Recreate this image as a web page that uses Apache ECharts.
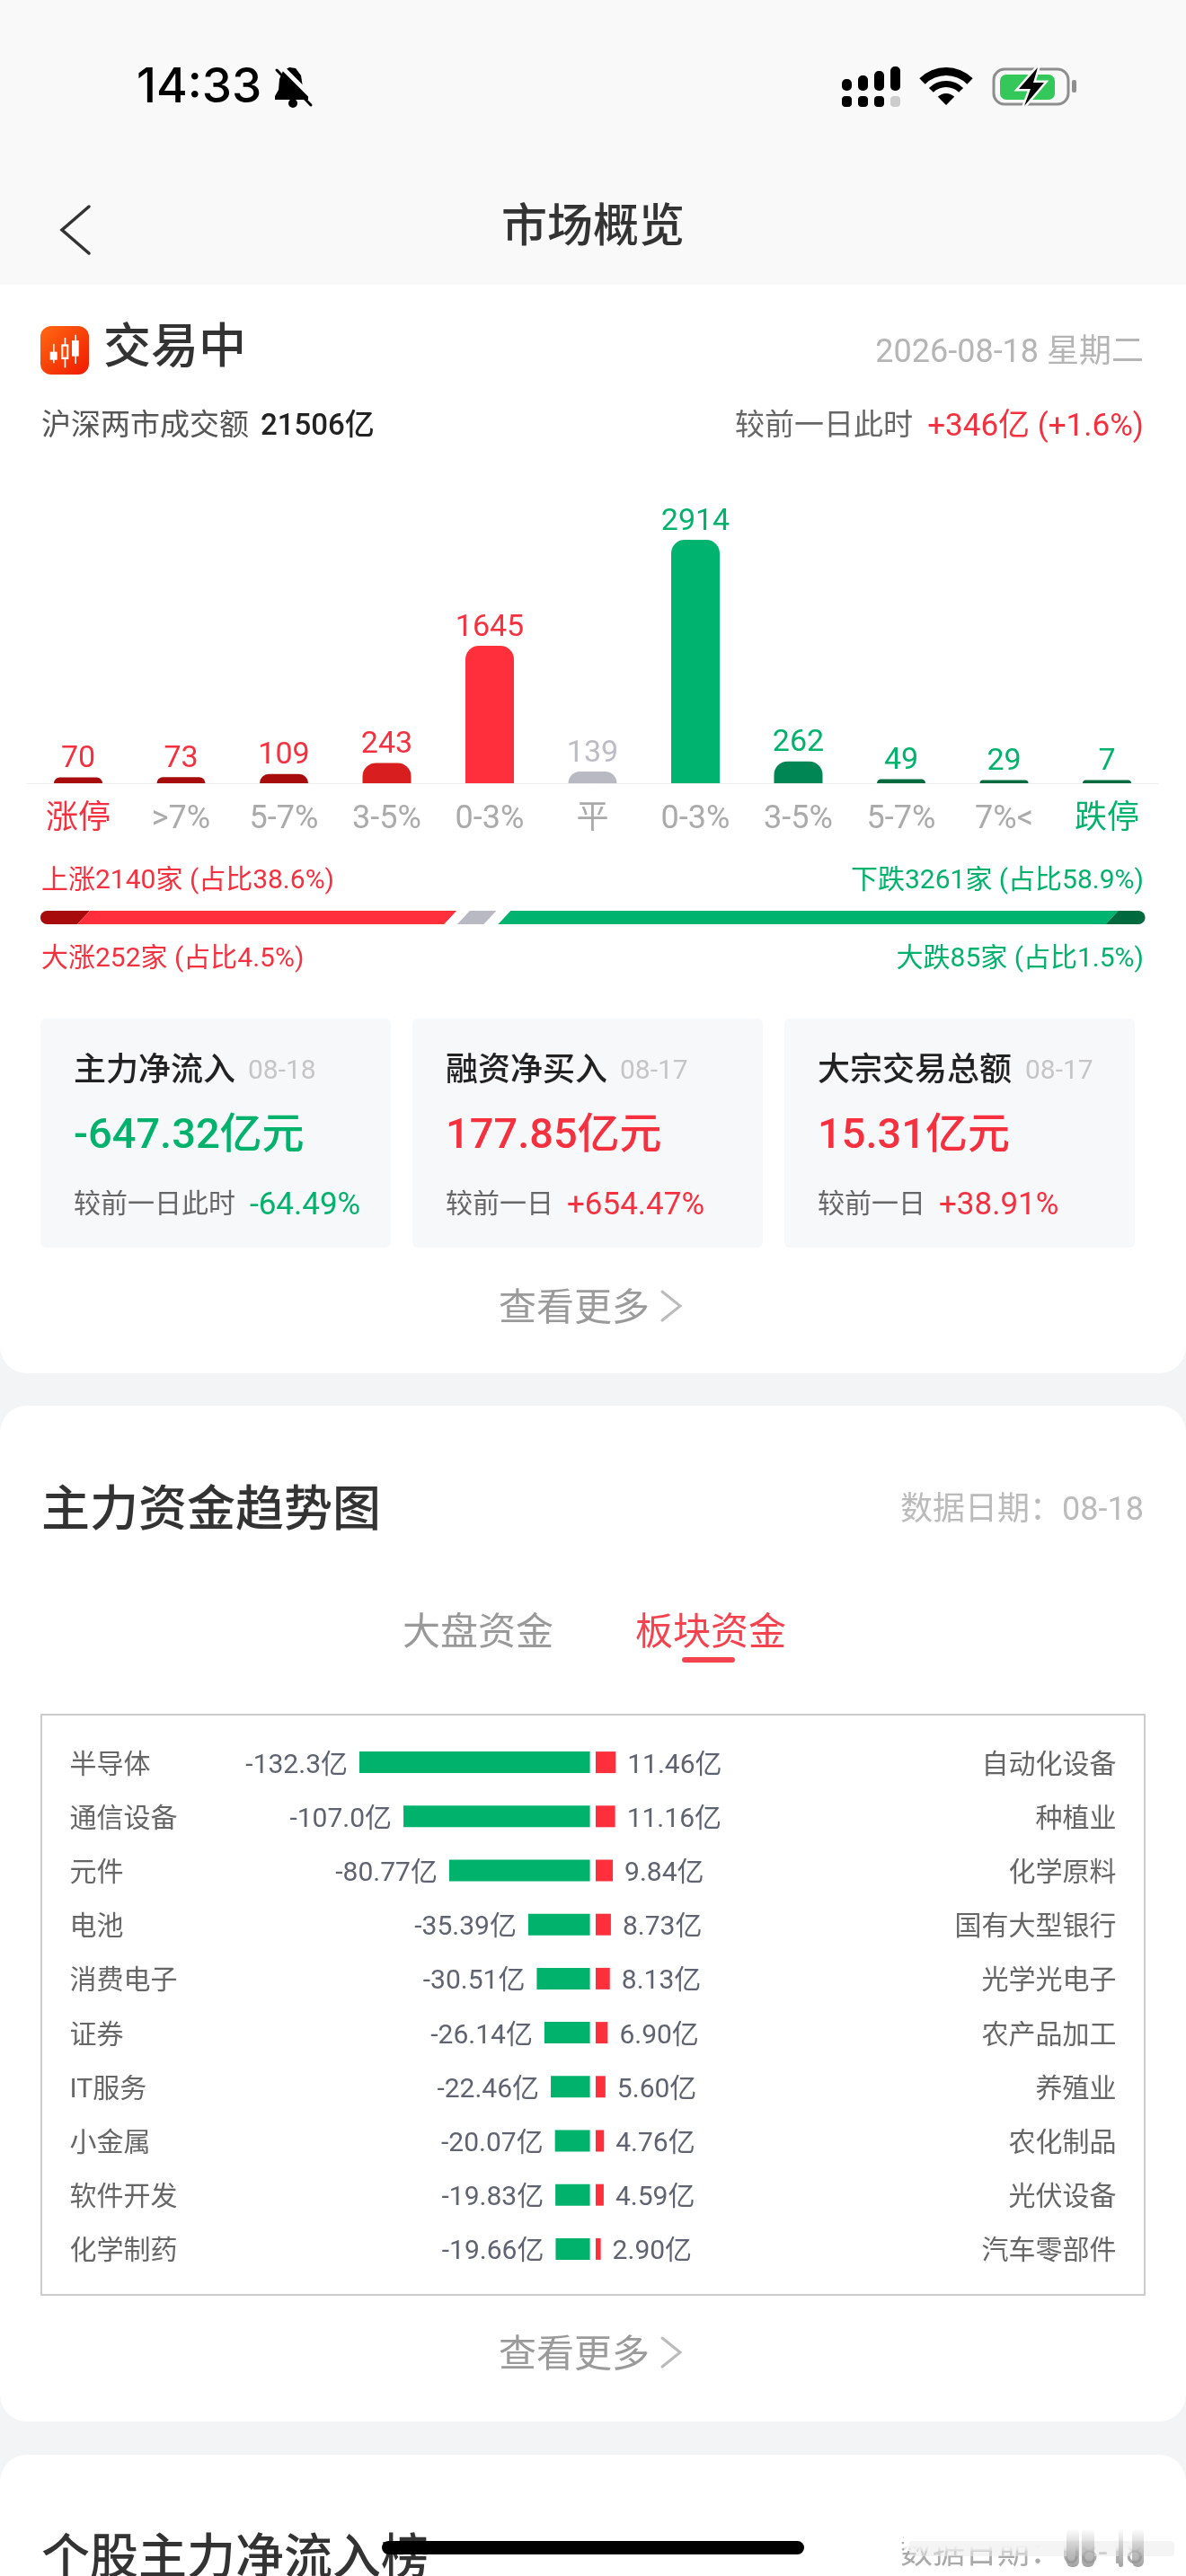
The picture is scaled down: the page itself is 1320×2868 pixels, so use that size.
<!DOCTYPE html>
<html lang="zh">
<head>
<meta charset="utf-8">
<title>市场概览</title>
<style>
  html, body { margin: 0; padding: 0; background: #f3f4f6; }
  #page { width: 1320px; height: 2868px; }
</style>
</head>
<body>
<div id="page"></div>
<script src="https://cdn.jsdelivr.net/npm/echarts@6/dist/echarts.min.js"></script>
<script>
// 涨跌分布
const rangeLabels = ['涨停', '>7%', '5-7%', '3-5%', '0-3%', '平', '0-3%', '3-5%', '5-7%', '7%<', '跌停'];
const rangeCounts = [70, 73, 109, 243, 1645, 139, 2914, 262, 49, 29, 7];

// 涨跌比例条（按图上读到的占条长百分比）
const ratioStart = [0, 3.9, 38.3, 42.0, 97.0];
const ratioEnd = [3.9, 37.1, 40.7, 97.0, 100];

// 板块资金
const outNames = ['半导体', '通信设备', '元件', '电池', '消费电子', '证券', 'IT服务', '小金属', '软件开发', '化学制药'];
const outValues = [-132.3, -107.0, -80.77, -35.39, -30.51, -26.14, -22.46, -20.07, -19.83, -19.66];
const inNames = ['自动化设备', '种植业', '化学原料', '国有大型银行', '光学光电子', '农产品加工', '养殖业', '农化制品', '光伏设备', '汽车零部件'];
const inValues = [11.46, 11.16, 9.84, 8.73, 8.13, 6.90, 5.60, 4.76, 4.59, 2.90];

const RED = '#f5303f', GREEN = '#00b26c', GRAY = '#aaaaaa';
const FONT = 'Roboto, "Noto Sans CJK SC", sans-serif';
const rangeBarColors = ['#a80b0b', '#a80b0b', '#a80b0b', '#d81e1e', '#ff303c', '#b9b9c4', '#00b36e', '#008555', '#006a3f', '#006a3f', '#006a3f'];
const rangeValueColors = [RED, RED, RED, RED, RED, '#bcbcc6', GREEN, GREEN, GREEN, GREEN, GREEN];
const rangeLabelColors = [RED, GRAY, GRAY, GRAY, GRAY, GRAY, GRAY, GRAY, GRAY, GRAY, GREEN];
const ratioColors = ['#a80b0b', '#ff303c', '#b9b9c4', '#00b36e', '#006a3f'];

const chart = echarts.init(document.getElementById('page'));

// 文字（中文字体的 middle 偏上，按字号往下补一点）
function txt(x, y, text, size, color, align, weight, family) {
  return {
    type: 'text', x, y: y + size * 0.12, z: 3,
    style: {
      text, fill: color, fontSize: size, fontFamily: family || FONT,
      fontWeight: weight || 400, align: align || 'left', verticalAlign: 'middle'
    }
  };
}
function box(x, y, w, h, color, r, z) {
  return { type: 'rect', z: z === undefined ? 1 : z, shape: { x, y, width: w, height: h, r: r || 0 }, style: { fill: color } };
}
function line(points, color, width) {
  return { type: 'polyline', z: 3, shape: { points }, style: { stroke: color, lineWidth: width, fill: null, lineCap: 'round' } };
}

// 顶部状态栏图标
function statusIcons() {
  const items = [];
  // 静音铃铛
  items.push({ type: 'polygon', z: 3, shape: { points: [[322, 75], [329, 76], [335, 84], [337, 97], [343, 105], [343, 111], [306, 111], [306, 107], [310, 100], [311, 88], [315, 79]] }, style: { fill: '#000' } });
  items.push({ type: 'circle', z: 3, shape: { cx: 326, cy: 115, r: 5 }, style: { fill: '#000' } });
  items.push(line([[311, 72], [350, 111]], '#f9f9f9', 5));
  items.push(line([[308, 78], [346, 117]], '#000', 3));
  // 信号
  const colX = [937, 955, 973, 991];
  const colTop = [88, 84, 79, 74];
  colX.forEach((x, i) => {
    items.push(box(x, colTop[i], 11, 101 - colTop[i], '#000', 5, 3));
    items.push(box(x, 107, 11, 12, i === 3 ? '#cccccc' : '#000', 4, 3));
  });
  // wifi
  [[0, 13], [20, 27], [33, 42]].forEach(r => {
    items.push({ type: 'sector', z: 3, shape: { cx: 1053, cy: 117, r0: r[0], r: r[1], startAngle: -Math.PI * 0.75, endAngle: -Math.PI * 0.25 }, style: { fill: '#000' } });
  });
  // 电池
  items.push({ type: 'rect', z: 3, shape: { x: 1106, y: 77, width: 83, height: 39, r: 12 }, style: { fill: null, stroke: '#8e8e8e', lineWidth: 3 } });
  items.push(box(1113, 83, 61, 28, '#34c759', 7, 3));
  items.push(box(1193, 89, 5, 14, '#8e8e8e', 2, 3));
  const bolt = [[1155, 75], [1134, 99], [1147, 99], [1140, 118], [1162, 92], [1150, 92]];
  items.push({ type: 'polygon', z: 3, shape: { points: bolt }, style: { fill: '#000', stroke: '#f9f9f9', lineWidth: 5 } });
  items.push({ type: 'polygon', z: 3, shape: { points: bolt }, style: { fill: '#000' } });
  return items;
}

// 交易中 蜡烛图标
function candleIcon() {
  const fill = { type: 'linear', x: 0, y: 0, x2: 1, y2: 1, colorStops: [{ offset: 0, color: '#ff6a12' }, { offset: 1, color: '#f01a00' }] };
  const ox = 35, oy = 350;
  const p = v => v / 3;
  const items = [{ type: 'rect', z: 3, shape: { x: 45, y: 363, width: 54, height: 54, r: 12 }, style: { fill } }];
  const wick = [[72, 98, 163], [110, 78, 178], [145, 68, 165]];
  const body = [[62, 125, 24, 27], [100, 100, 24, 50], [135, 87, 23, 53]];
  wick.forEach(w => items.push(box(ox + p(w[0]), oy + p(w[1]), 1.6, p(w[2] - w[1]), '#fff', 0, 3)));
  body.forEach(b => items.push(box(ox + p(b[0]), oy + p(b[1]), p(b[2]), p(b[3]), '#fff', 0, 3)));
  items.push(box(ox + p(106), oy + p(107), p(12), p(36), '#ff4a08', 0, 3));
  return items;
}

function moreLink(y) {
  return [
    txt(555, y, '查看更多', 42, '#9a9a9a'),
    line([[737, y - 16], [757, y], [737, y + 16]], '#bbbbbb', 3)
  ];
}

// 三张小卡片
const statX = [45, 459, 873];
const statTitles = ['主力净流入', '融资净买入', '大宗交易总额'];
const statDates = ['08-18', '08-17', '08-17'];
const statDateX = [276, 690, 1141];
const statValues = ['-647.32亿元', '177.85亿元', '15.31亿元'];
const statColors = [GREEN, RED, RED];
const statNotes = ['较前一日此时', '较前一日', '较前一日'];
const statDiffs = ['-64.49%', '+654.47%', '+38.91%'];
const statDiffX = [278, 631, 1045];

function statCards() {
  const items = [];
  statX.forEach((x, i) => {
    items.push(box(x, 1134, 390, 255, '#f7f8fa', 6));
    items.push(txt(x + 37, 1190, statTitles[i], 36, '#222222', 'left', 500));
    items.push(txt(statDateX[i], 1190, statDates[i], 30, '#c5c5c5'));
    items.push(txt(x + 37, 1261, statValues[i], 47, statColors[i], 'left', 500));
    items.push(txt(x + 37, 1339, statNotes[i], 30, '#666666'));
    items.push(txt(statDiffX[i], 1339, statDiffs[i], 35, statColors[i]));
  });
  return items;
}

// 底部 home 条和模糊
function bottomOverlay() {
  const smear = [[1187, 14], [1204, 14], [1245, 5], [1260, 13]];
  const items = [
    { type: 'rect', z: 5, shape: { x: 1006, y: 2800, width: 314, height: 40 }, style: { fill: { type: 'linear', x: 0, y: 0, x2: 0, y2: 1, colorStops: [{ offset: 0, color: '#ffffff' }, { offset: 0.85, color: '#ffffff' }, { offset: 1, color: 'rgba(255,255,255,0.4)' }] } } },
    { type: 'rect', z: 6, shape: { x: 1012, y: 2829, width: 295, height: 17, r: 4 }, style: { fill: 'rgba(235,235,235,0.55)' } }
  ];
  smear.forEach(s => {
    items.push({ type: 'rect', z: 6, shape: { x: s[0], y: 2815, width: s[1], height: 43, r: 6 }, style: { fill: { type: 'linear', x: 0, y: 0, x2: 0, y2: 1, colorStops: [{ offset: 0, color: 'rgba(150,150,150,0)' }, { offset: 1, color: 'rgba(150,150,150,0.9)' }] } } });
  });
  items.push(box(425, 2829, 470, 15, '#000', 7.5, 7));
  return items;
}

const graphics = [
  // 底色和卡片
  box(0, 0, 1320, 317, '#f9f9f9', 0, 0),
  box(0, 317, 1320, 1212, '#ffffff', [0, 0, 30, 30], 0),
  box(0, 1565, 1320, 1131, '#ffffff', 30, 0),
  box(0, 2733, 1320, 180, '#ffffff', 30, 0),

  // 状态栏和导航
  txt(152, 92, '14:33', 53, '#000000', 'left', 500, 'Inter'),
  ...statusIcons(),
  line([[99, 230], [69, 256], [99, 282]], '#333333', 3.5),
  txt(660, 250, '市场概览', 51, '#333333', 'center', 500),

  // 交易中
  ...candleIcon(),
  txt(115, 384, '交易中', 53, '#333333', 'left', 500),
  txt(1273, 390, '2026-08-18 星期二', 36, '#b5b5b5', 'right'),
  txt(46, 472, '沪深两市成交额', 33, '#555555'),
  txt(290, 472, '21506亿', 33, '#222222', 'left', 500),
  txt(818, 472, '较前一日此时', 33, '#666666'),
  txt(1273, 472, '+346亿 (+1.6%)', 35, RED, 'right'),

  // 涨跌家数
  txt(46, 978, '上涨2140家 (占比38.6%)', 30, RED),
  txt(1273, 978, '下跌3261家 (占比58.9%)', 30, GREEN, 'right'),
  txt(46, 1065, '大涨252家 (占比4.5%)', 30, RED),
  txt(1273, 1065, '大跌85家 (占比1.5%)', 30, GREEN, 'right'),

  ...statCards(),
  ...moreLink(1454),

  // 主力资金趋势图
  txt(46, 1679, '主力资金趋势图', 54, '#333333', 'left', 500),
  txt(1273, 1679, '数据日期：08-18', 36, '#bbbbbb', 'right'),
  txt(448, 1815, '大盘资金', 42, '#999999'),
  txt(707, 1815, '板块资金', 42, '#f5424f'),
  box(759, 1845, 59, 6, '#f5424f', 3),
  { type: 'rect', z: 1, shape: { x: 46, y: 1909, width: 1228, height: 646 }, style: { fill: null, stroke: '#cccccc', lineWidth: 2 } },
  ...moreLink(2619),

  // 个股主力净流入榜
  txt(46, 2846, '个股主力净流入榜', 54, '#333333', 'left', 500),
  txt(1273, 2841, '数据日期：08-18', 36, '#aaaaaa', 'right'),
  ...bottomOverlay()
];

// 比例条的一段，两端圆角、中间斜切
function renderRatio(params, api) {
  const i = api.value(0);
  const x0 = api.coord([api.value(1), 0])[0];
  const x1 = api.coord([api.value(2), 0])[0];
  const top = params.coordSys.y, h = params.coordSys.height, bottom = top + h;
  const slant = 7, r = h / 2;
  let points;
  if (i === 0) {
    // 左圆弧从上到下，再接右边斜切
    points = [];
    for (let a = 90; a <= 270; a += 15) {
      const t = a * Math.PI / 180;
      points.push([x0 + r + r * Math.cos(t), top + r - r * Math.sin(t)]);
    }
    points.push([x1 - slant, bottom], [x1 + slant, top]);
  } else if (i === ratioStart.length - 1) {
    // 左上、右圆弧从上到下、左下
    points = [[x0 + slant, top]];
    for (let a = -90; a <= 90; a += 15) {
      const t = a * Math.PI / 180;
      points.push([x1 - r + r * Math.cos(t), top + r + r * Math.sin(t)]);
    }
    points.push([x0 - slant, bottom]);
  } else {
    points = [[x0 + slant, top], [x1 + slant, top], [x1 - slant, bottom], [x0 - slant, bottom]];
  }
  return { type: 'polygon', shape: { points }, style: { fill: ratioColors[i] } };
}

const flowLabel = v => {
  const abs = Math.abs(v);
  return (abs >= 100 ? v.toFixed(1) : v.toFixed(2)) + '亿';
};

// 板块名用 rich 往下挪几像素，和柱子中线对齐
const flowAxisLabel = {
  interval: 0,
  formatter: v => '{n|' + v + '}',
  rich: { n: { fontSize: 30, color: '#666666', fontFamily: FONT, padding: [8, 0, 0, 0] } }
};

const option = {
  animation: false,
  backgroundColor: '#f3f4f6',
  textStyle: { fontFamily: FONT },
  graphic: { elements: graphics },
  grid: [
    { left: 29.75, width: 1259.5, top: 601, height: 271 },
    { left: 45, width: 1229.5, top: 1014, height: 15 },
    { left: 400, width: 256.6, top: 1932, height: 602 },
    { left: 663, width: 256.6, top: 1932, height: 602 }
  ],
  xAxis: [
    {
      type: 'category', gridIndex: 0, data: rangeLabels,
      axisTick: { show: false },
      axisLine: { lineStyle: { color: '#eeeeee', width: 1 } },
      axisLabel: {
        interval: 0, margin: 23, fontSize: 36, fontFamily: FONT,
        color: (v, i) => rangeLabelColors[i]
      }
    },
    { type: 'value', gridIndex: 1, min: 0, max: 100, show: false },
    { type: 'value', gridIndex: 2, min: -132.3, max: 0, show: false },
    { type: 'value', gridIndex: 3, min: 0, max: 132.3, show: false }
  ],
  yAxis: [
    { type: 'value', gridIndex: 0, min: 0, max: 2914, show: false },
    { type: 'category', gridIndex: 1, data: ['占比'], show: false },
    {
      type: 'category', gridIndex: 2, data: outNames, inverse: true,
      axisLine: { show: false }, axisTick: { show: false },
      axisLabel: Object.assign({ align: 'left', margin: 322.5 }, flowAxisLabel)
    },
    {
      type: 'category', gridIndex: 3, data: inNames, inverse: true, position: 'right',
      axisLine: { show: false }, axisTick: { show: false },
      axisLabel: Object.assign({ align: 'right', margin: 323 }, flowAxisLabel)
    }
  ],
  series: [
    {
      type: 'bar', xAxisIndex: 0, yAxisIndex: 0, barWidth: 54, barMinHeight: 3.5,
      itemStyle: { borderRadius: [15, 15, 0, 0] },
      label: { show: true, position: 'top', distance: 3, fontSize: 34, fontFamily: FONT },
      data: rangeCounts.map((v, i) => ({
        value: v,
        itemStyle: { color: rangeBarColors[i] },
        label: { color: rangeValueColors[i] }
      }))
    },
    {
      type: 'custom', xAxisIndex: 1, yAxisIndex: 1, renderItem: renderRatio,
      encode: { x: [1, 2] },
      data: ratioStart.map((s, i) => [i, s, ratioEnd[i]])
    },
    {
      type: 'bar', xAxisIndex: 2, yAxisIndex: 2, barWidth: 24, data: outValues,
      itemStyle: { color: '#00b26c' },
      label: {
        show: true, position: 'left', distance: 13, offset: [0, 4], fontSize: 30, fontFamily: FONT, color: '#5f6270',
        formatter: p => flowLabel(p.value)
      }
    },
    {
      type: 'bar', xAxisIndex: 3, yAxisIndex: 3, barWidth: 24, data: inValues,
      itemStyle: { color: '#ff303c' },
      label: {
        show: true, position: 'right', distance: 13, offset: [0, 4], fontSize: 30, fontFamily: FONT, color: '#5f6270',
        formatter: p => flowLabel(p.value)
      }
    }
  ]
};

chart.setOption(option);
window.addEventListener('resize', () => chart.resize());
</script>
</body>
</html>
